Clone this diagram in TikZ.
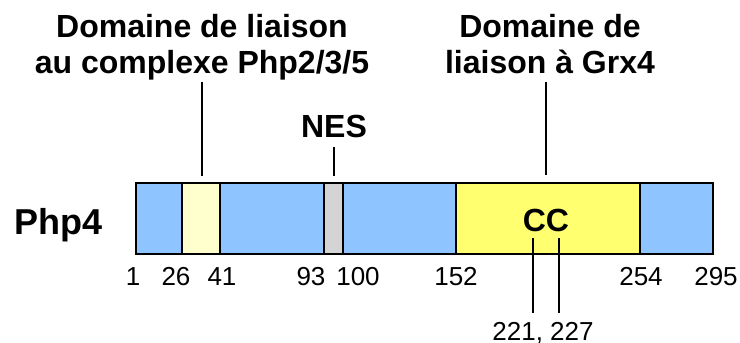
\documentclass[tikz,border=0pt]{standalone}
\usepackage{fontspec}
\setmainfont{Liberation Sans}
\definecolor{pblue}{RGB}{142,196,255}
\definecolor{pyellow}{RGB}{255,255,112}
\definecolor{ppale}{RGB}{255,255,206}
\definecolor{pgrey}{RGB}{212,212,212}
\begin{document}
\begin{tikzpicture}[x=1pt,y=-1pt,
  lbl/.style={font=\bfseries\fontsize{32}{36}\selectfont, inner sep=0pt, align=center},
  num/.style={font=\fontsize{26}{30}\selectfont, inner sep=0pt, anchor=base},
  seg/.style={draw=black, line width=2.6pt},
  tick/.style={draw=black, line width=2.2pt}]
\useasboundingbox[fill=white] (0,0) rectangle (740,343);
% bar segments
\filldraw[seg, fill=pblue]   (136,183) rectangle (182,254);
\filldraw[seg, fill=ppale]   (182,183) rectangle (220,254);
\filldraw[seg, fill=pblue]   (220,183) rectangle (324,254);
\filldraw[seg, fill=pgrey]   (324,183) rectangle (343,254);
\filldraw[seg, fill=pblue]   (343,183) rectangle (456,254);
\filldraw[seg, fill=pyellow] (456,183) rectangle (640,254);
\filldraw[seg, fill=pblue]   (640,183) rectangle (713,254);
% labels
\node[lbl, anchor=north] (lab1) at (202,14) {Domaine de liaison\\au complexe Php2/3/5};
\node[lbl, anchor=north] (lab2) at (550,14) {Domaine de\\liaison à Grx4};
\node[lbl, anchor=base] (nes) at (334,137) {NES};
\node[lbl, anchor=base] (cc) at (546,231) {CC};
\node[font=\bfseries\fontsize{36}{40}\selectfont, inner sep=0pt, anchor=base west] (php) at (14,234) {Php4};
% tick coordinates
\coordinate (a1) at (202,82);  \coordinate (a2) at (202,176);
\coordinate (b1) at (546,82);  \coordinate (b2) at (546,175);
\coordinate (n1) at (334,147); \coordinate (n2) at (334,176);
\coordinate (d1) at (533,238); \coordinate (d2) at (533,313);
\coordinate (e1) at (559,238); \coordinate (e2) at (559,313);
\draw[tick] (a1) -- (a2);
\draw[tick] (b1) -- (b2);
\draw[tick] (n1) -- (n2);
\draw[tick] (d1) -- (d2);
\draw[tick] (e1) -- (e2);
% numbers
\node[num] (p1)   at (133,285) {1};
\node[num] (p26)  at (176,285) {26};
\node[num] (p41)  at (222,285) {41};
\node[num] (p93)  at (311,285) {93};
\node[num] (p100) at (358,285) {100};
\node[num] (p152) at (456,285) {152};
\node[num] (p254) at (641,285) {254};
\node[num] (p295) at (716,285) {295};
\node[num] (p221) at (543,340) {221, 227};
\end{tikzpicture}
\end{document}
